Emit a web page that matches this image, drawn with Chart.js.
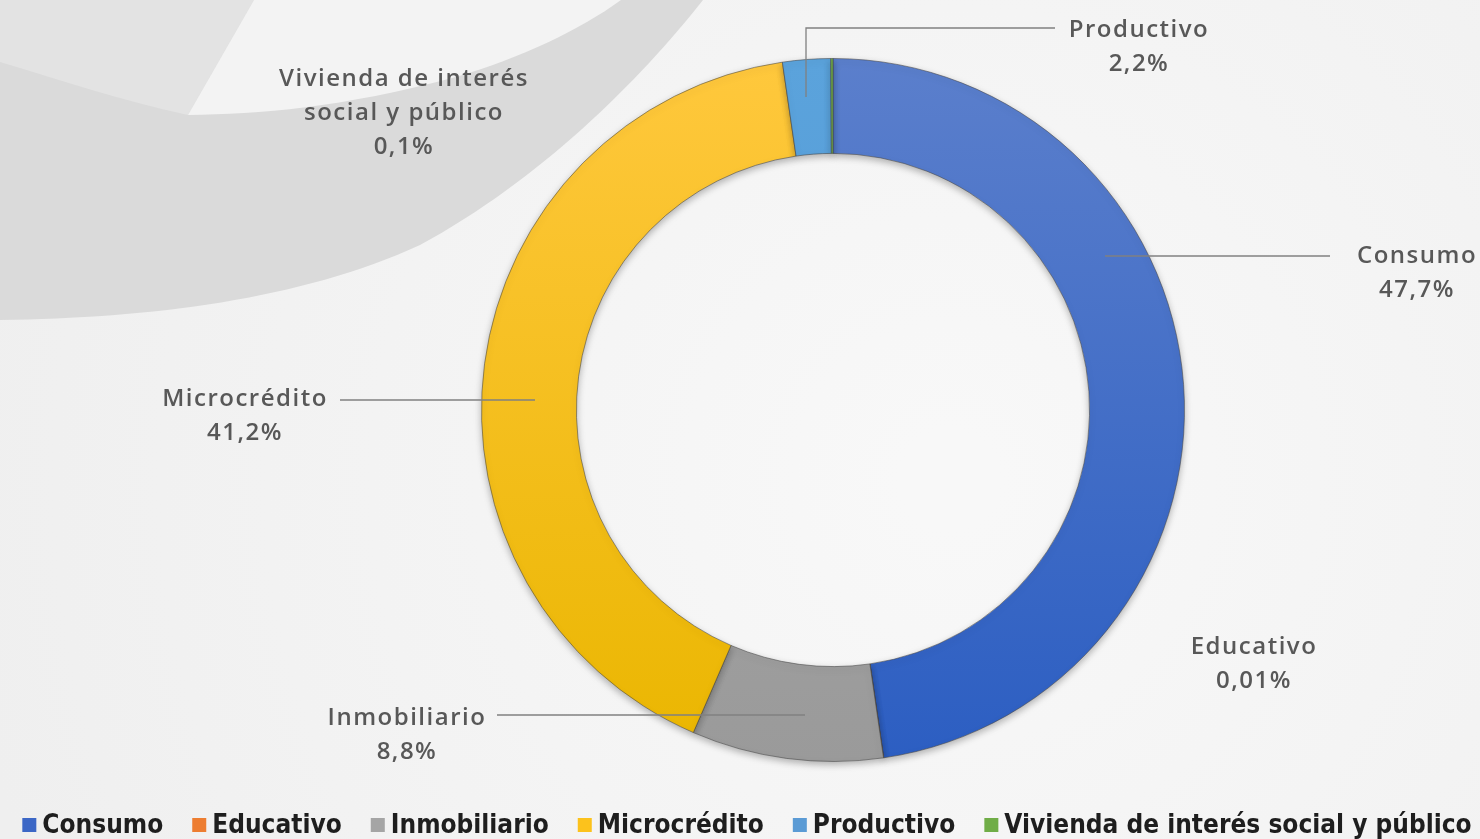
<!DOCTYPE html>
<html lang="es">
<head>
<meta charset="UTF-8">
<title>Cartera por modalidad</title>
<script src="https://cdn.jsdelivr.net/npm/chart.js"></script>
<style>
  html, body { margin: 0; padding: 0; background: #f2f2f2; }
  #wrap { position: relative; width: 1480px; height: 839px; }
</style>
</head>
<body>
<div id="wrap"><canvas id="myChart"></canvas></div>
<script>
// datos
const categories = ['Consumo', 'Educativo', 'Inmobiliario', 'Microcrédito', 'Productivo', 'Vivienda de interés social y público'];
const shares = [47.7, 0.01, 8.8, 41.2, 2.2, 0.1];

// colores por categoría (arriba / abajo del degradado)
const colorsTop = ['#5b7fcc', '#ed7d31', '#acacac', '#ffc83d', '#5ba3dc', '#70ad47'];
const colorsBottom = ['#2c5ec2', '#ed7d31', '#9a9a9a', '#eab600', '#4f95d2', '#70ad47'];
const legendColors = ['#3c67c6', '#ed7d31', '#a5a5a5', '#fcc21c', '#5b9bd5', '#70ad47'];

// posición de las etiquetas y líneas guía (anotaciones)
const labelLayout = [
  { lines: ['Consumo'], x: 1417, y: 256, leader: [[1105, 256], [1330, 256]] },
  { lines: ['Educativo'], x: 1254, y: 647, leader: null },
  { lines: ['Inmobiliario'], x: 407, y: 718, leader: [[805, 715], [497, 715]] },
  { lines: ['Microcrédito'], x: 245, y: 399, leader: [[535, 400], [340, 400]] },
  { lines: ['Productivo'], x: 1139, y: 30, leader: [[806, 97], [806, 28], [1055, 28]] },
  { lines: ['Vivienda de interés', 'social y público'], x: 404, y: 79, leader: null }
];

function pct(v) {
  return String(v).replace('.', ',') + '%';
}

// fondo con las bandas grises de la plantilla
const backgroundPlugin = {
  id: 'bgShapes',
  beforeDraw(chart) {
    const c = chart.ctx;
    const w = chart.width, h = chart.height;
    c.save();
    const g = c.createRadialGradient(950, 480, 50, 950, 480, 1000);
    g.addColorStop(0, '#f8f8f8');
    g.addColorStop(1, '#efefef');
    c.fillStyle = g;
    c.fillRect(0, 0, w, h);

    // banda gris grande
    c.fillStyle = '#dadada';
    c.beginPath();
    c.moveTo(0, 0);
    c.lineTo(703, 0);
    c.bezierCurveTo(640, 80, 540, 180, 420, 245);
    c.bezierCurveTo(300, 300, 150, 318, 0, 320);
    c.closePath();
    c.fill();

    // zona clara superior izquierda
    c.fillStyle = '#e3e3e3';
    c.beginPath();
    c.moveTo(0, 0);
    c.lineTo(254, 0);
    c.lineTo(188, 115);
    c.bezierCurveTo(120, 100, 60, 80, 0, 62);
    c.closePath();
    c.fill();

    // cuña blanca
    c.fillStyle = '#f3f3f3';
    c.beginPath();
    c.moveTo(254, 0);
    c.lineTo(188, 115);
    c.bezierCurveTo(260, 114, 340, 108, 456, 77);
    c.bezierCurveTo(520, 58, 580, 30, 621, 0);
    c.closePath();
    c.fill();
    c.restore();
  }
};

// sombra suave bajo el anillo
const shadowPlugin = {
  id: 'ringShadow',
  beforeDatasetsDraw(chart) {
    const c = chart.ctx;
    c.save();
    c.shadowColor = 'rgba(0,0,0,0.28)';
    c.shadowBlur = 7;
    c.shadowOffsetY = 3;
  },
  afterDatasetsDraw(chart) {
    chart.ctx.restore();
  }
};

// etiquetas con nombre y porcentaje
const labelsPlugin = {
  id: 'sliceLabels',
  afterDatasetsDraw(chart) {
    const c = chart.ctx;
    const values = chart.data.datasets[0].data;
    c.save();
    c.strokeStyle = '#808080';
    c.lineWidth = 1.3;
    labelLayout.forEach((lay) => {
      if (!lay.leader) return;
      c.beginPath();
      lay.leader.forEach((p, k) => (k ? c.lineTo(p[0], p[1]) : c.moveTo(p[0], p[1])));
      c.stroke();
    });
    c.fillStyle = '#585858';
    c.font = '600 24px "Open Sans"';
    c.letterSpacing = '1.5px';
    c.textAlign = 'center';
    c.textBaseline = 'middle';
    labelLayout.forEach((lay, i) => {
      const rows = lay.lines.concat([pct(values[i])]);
      rows.forEach((t, k) => c.fillText(t, lay.x, lay.y + k * 34));
    });
    c.restore();
  }
};

// leyenda inferior
const legendPlugin = {
  id: 'bottomLegend',
  afterDraw(chart) {
    const c = chart.ctx;
    const labels = chart.data.labels;
    c.save();
    c.font = 'bold 26px "DejaVu Sans Condensed"';
    c.textBaseline = 'middle';
    c.textAlign = 'left';
    const box = 14, gapText = 6, gapItem = 29;
    const widths = labels.map(t => box + gapText + c.measureText(t).width);
    const total = widths.reduce((a, b) => a + b, 0) + gapItem * (labels.length - 1);
    let x = 747 - total / 2;
    const y = 825;
    labels.forEach((t, i) => {
      c.fillStyle = legendColors[i];
      c.fillRect(x, y - 7, box, 14);
      c.fillStyle = '#1e1e1e';
      c.fillText(t, x + box + gapText, y + 1);
      x += widths[i] + gapItem;
    });
    c.restore();
  }
};

function sliceFill(context) {
  const chart = context.chart;
  const area = chart.chartArea;
  const i = context.dataIndex;
  if (!area) return colorsTop[i];
  const g = chart.ctx.createLinearGradient(0, area.top, 0, area.bottom);
  g.addColorStop(0, colorsTop[i]);
  g.addColorStop(1, colorsBottom[i]);
  return g;
}

const ctx = document.getElementById('myChart').getContext('2d');
const chart = new Chart(ctx, {
  type: 'doughnut',
  data: {
    labels: categories,
    datasets: [{
      data: shares,
      backgroundColor: sliceFill,
      borderColor: 'rgba(70,70,70,0.55)',
      borderWidth: 1
    }]
  },
  options: {
    responsive: true,
    maintainAspectRatio: false,
    animation: false,
    cutout: '73%',
    layout: { padding: { left: 186, right: 0, top: 58, bottom: 77 } },
    plugins: {
      legend: { display: false },
      tooltip: { enabled: false }
    }
  },
  plugins: [backgroundPlugin, shadowPlugin, labelsPlugin, legendPlugin]
});
</script>
</body>
</html>
